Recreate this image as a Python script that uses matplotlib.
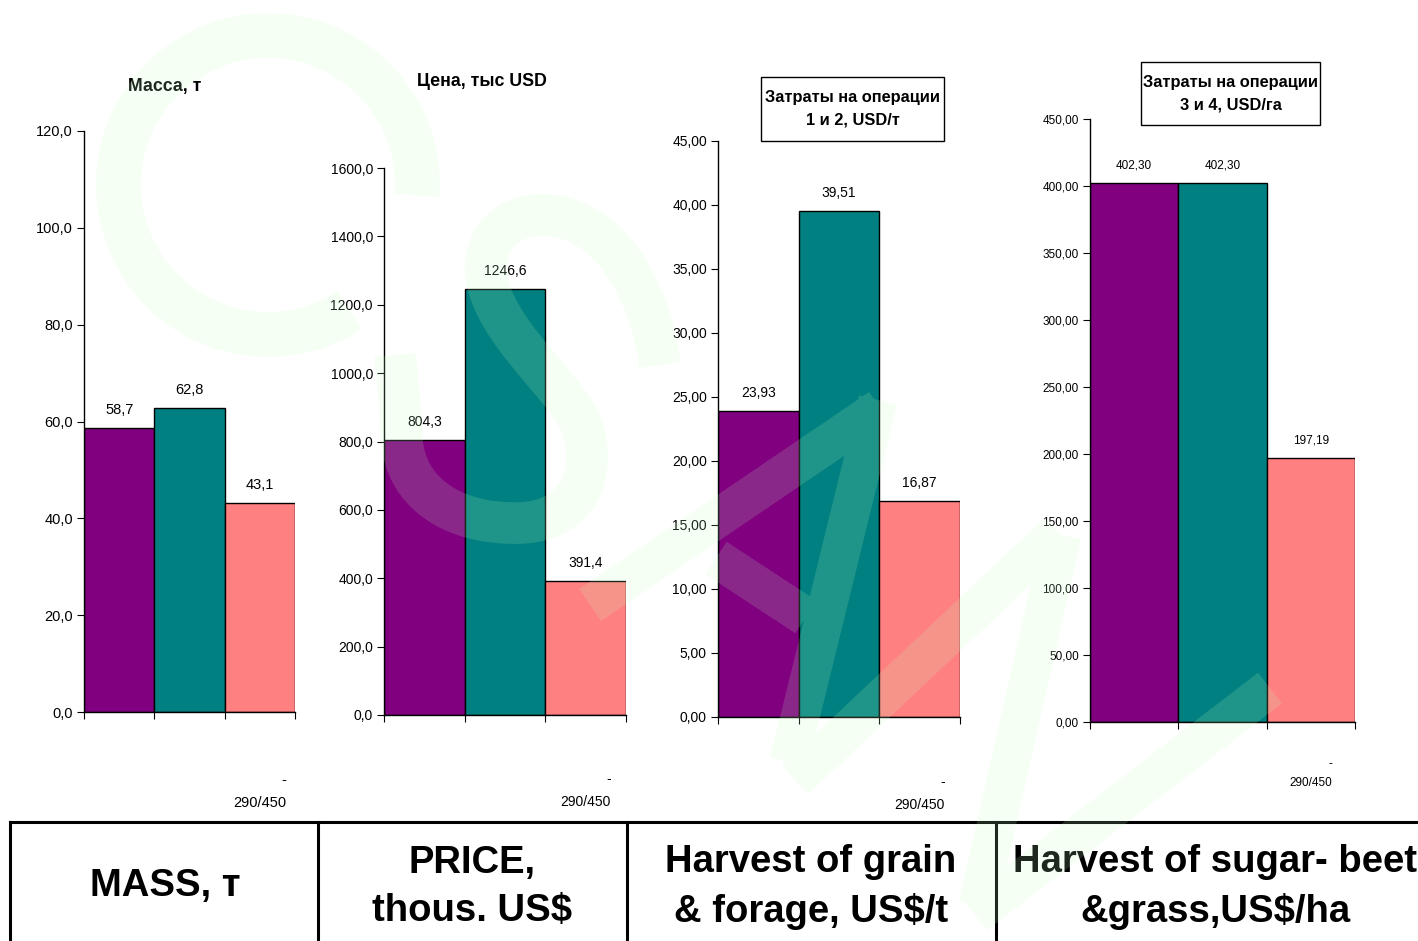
import matplotlib
matplotlib.use('Agg')
import matplotlib.pyplot as plt
from matplotlib.patches import Wedge, PathPatch, Rectangle
from matplotlib.path import Path
from matplotlib.lines import Line2D
from matplotlib.transforms import Affine2D
from matplotlib.ticker import FuncFormatter

plt.rcParams['font.family'] = ['Liberation Sans', 'DejaVu Sans']

W, H = 1418, 941

# data
mass = [58.7, 62.8, 43.1]
price = [804.3, 1246.6, 391.4]
cost_12 = [23.93, 39.51, 16.87]
cost_34 = [402.30, 402.30, 197.19]
tick_labels = ['', '', '-\n290/450']
bar_colors = ['#800080', '#008080', '#ff8080']

titles = ['Масса, т', 'Цена, тыс USD',
          'Затраты на операции\n1 и 2, USD/т',
          'Затраты на операции\n3 и 4, USD/га']
table_labels = ['MASS, т', 'PRICE,\nthous. US$',
                'Harvest of grain\n& forage, US$/t',
                'Harvest of sugar- beet\n&grass,US$/ha']

fig = plt.figure(figsize=(W / 100, H / 100), dpi=100)
# pixel coordinates, y from the top
px = Affine2D().scale(1 / W, -1 / H).translate(0, 1) + fig.transFigure


def comma(dec):
    return lambda v: f'{v:.{dec}f}'.replace('.', ',')


# left, right, bottom, top in pixels; ymax, step, decimals, tick font, label pad
charts = [
    (mass, (84, 295, 712, 131), 120, 20, 1, 10.5, 44),
    (price, (384, 626, 715, 168), 1600, 200, 1, 10, 41),
    (cost_12, (718, 960, 717, 141), 45, 5, 2, 10, 42),
    (cost_34, (1090, 1355, 722, 119), 450, 50, 2, 8.5, 26),
]

for values, (l, r, b, t), ymax, step, dec, fs, pad in charts:
    ax = fig.add_axes([l / W, 1 - b / H, (r - l) / W, (b - t) / H])
    ax.patch.set_alpha(0)
    x = list(range(len(values)))
    ax.bar(x, values, width=1.0, color=bar_colors, edgecolor='black', linewidth=1)
    fmt = comma(dec)
    for xi, v in zip(x, values):
        ax.annotate(fmt(v), (xi, v), xytext=(0, 8), textcoords='offset points',
                    ha='center', va='bottom', fontsize=fs)
    ax.set_xlim(-0.5, 2.5)
    ax.set_ylim(0, ymax)
    ax.set_yticks([i * step for i in range(int(round(ymax / step)) + 1)])
    ax.yaxis.set_major_formatter(FuncFormatter(lambda v, p, f=fmt: f(v)))
    ax.set_xticks([-0.5, 0.5, 1.5, 2.5], labels=['', '', '', ''])
    ax.set_xticks(x, labels=tick_labels, minor=True)
    for lab in ax.get_xticklabels(minor=True):
        lab.set_multialignment('right')
        lab.set_linespacing(1.8)
        lab.set_fontsize(fs)
    ax.tick_params(axis='x', which='minor', length=0, pad=pad)
    ax.tick_params(axis='x', which='major', length=5, direction='out')
    ax.tick_params(axis='y', length=5, direction='out', labelsize=fs, pad=3)
    for s in ['top', 'right']:
        ax.spines[s].set_visible(False)
    for s in ['left', 'bottom']:
        ax.spines[s].set_linewidth(1)

# chart titles
fig.text(165, 87, titles[0], transform=px, ha='center', va='center',
         fontsize=12.8, fontweight='bold')
fig.text(482, 82, titles[1], transform=px, ha='center', va='center',
         fontsize=12.8, fontweight='bold')
for (x0, y0, x1, y1), txt in [((761, 77, 944, 141), titles[2]),
                              ((1141, 62, 1320, 125), titles[3])]:
    fig.add_artist(Rectangle((x0, y0), x1 - x0, y1 - y0, transform=px,
                             facecolor='white', edgecolor='black', linewidth=1))
    fig.text((x0 + x1) / 2, (y0 + y1) / 2, txt, transform=px, ha='center',
             va='center', fontsize=11.8, fontweight='bold', linespacing=1.6)

# table at the bottom
fig.add_artist(Line2D([10, W], [822, 822], transform=px, color='black', lw=2.2))
for xv in [10, 318, 627, 996]:
    fig.add_artist(Line2D([xv, xv], [822, H], transform=px, color='black', lw=2.2))
for (cx, cy), txt in zip([(165, 886), (472, 887), (811, 887), (1215, 887)], table_labels):
    fig.text(cx, cy, txt, transform=px, ha='center', va='center',
             fontsize=27.5, fontweight='bold', linespacing=1.45)

# faint "CSM" watermark
wm = (194 / 255, 1.0, 190 / 255)
fig.add_artist(Wedge((268, 185), 172, 57, 364, width=45, transform=px,
                     facecolor=wm, edgecolor='none', alpha=0.16, zorder=50))

s_verts = [(660, 365),
           (650, 290), (610, 215), (541, 215),
           (500, 215), (478, 250), (488, 285),
           (500, 330), (545, 370), (570, 405),
           (600, 445), (595, 520), (520, 523),
           (450, 525), (405, 490), (402, 440),
           (400, 400), (397, 375), (395, 355)]
s_codes = [Path.MOVETO] + [Path.CURVE4] * 18
fig.add_artist(PathPatch(Path(s_verts, s_codes), transform=px, facecolor='none',
                         edgecolor=wm, lw=30, alpha=0.16, capstyle='butt', zorder=50))

m_segments = [((590, 605), (880, 408)),
              ((878, 400), (789, 762)),
              ((716, 558), (806, 617)),
              ((795, 780), (1058, 532)),
              ((1062, 535), (978, 905)),
              ((975, 915), (1270, 688))]
m_verts, m_codes = [], []
for p0, p1 in m_segments:
    m_verts += [p0, p1]
    m_codes += [Path.MOVETO, Path.LINETO]
fig.add_artist(PathPatch(Path(m_verts, m_codes), transform=px, facecolor='none',
                         edgecolor=wm, lw=28, alpha=0.16, capstyle='butt', zorder=50))

fig.savefig('out.png', dpi=100)
